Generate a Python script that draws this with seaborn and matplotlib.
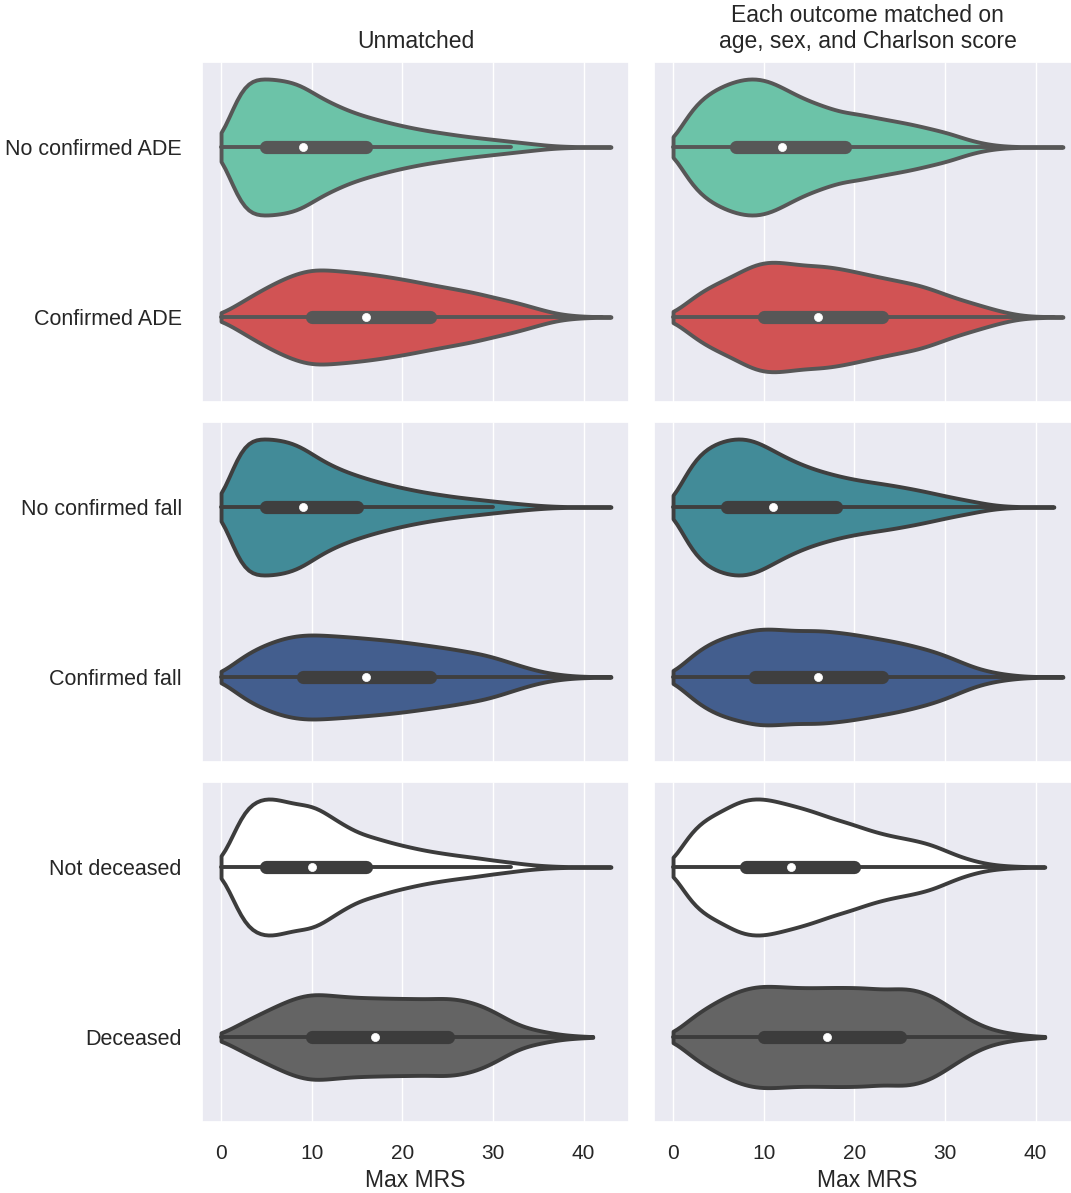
import numpy as np
import pandas as pd
import matplotlib
matplotlib.use("Agg")
import matplotlib.pyplot as plt
import seaborn as sns


# ======== Max MRS score counts ========
scores = np.arange(0, 44)

no_ade_unmatched = [8, 100, 180, 205, 207, 206, 204, 200, 195, 185, 165, 148, 135, 122, 110, 100, 92, 84, 77, 70,
                    64, 58, 53, 48, 44, 40, 36, 32, 29, 26, 23, 20, 17, 14, 11, 8, 5, 3, 2, 1, 1, 1, 1, 1]
ade_unmatched = [8, 25, 42, 58, 75, 90, 104, 118, 129, 138, 145, 144, 142, 140, 137, 135, 131, 128, 124, 119,
                 115, 110, 104, 99, 94, 89, 84, 79, 74, 67, 60, 54, 48, 41, 33, 25, 17, 10, 6, 4, 2, 1, 1, 1]
no_ade_matched = [8, 75, 115, 145, 165, 180, 192, 202, 208, 210, 206, 196, 182, 166, 152, 140, 130, 120, 111, 103,
                  103, 97, 91, 86, 81, 76, 71, 65, 58, 52, 45, 38, 26, 19, 12, 7, 4, 2, 1, 1, 1, 1, 1, 1]
ade_matched = [10, 32, 55, 75, 90, 103, 116, 128, 145, 158, 165, 167, 163, 160, 156, 153, 154, 151, 147, 142,
               136, 130, 124, 118, 113, 107, 102, 97, 88, 79, 68, 58, 50, 42, 34, 26, 18, 12, 6, 3, 2, 1, 1, 1]

no_fall_unmatched = [8, 100, 180, 205, 207, 206, 204, 200, 192, 180, 160, 142, 128, 115, 104, 95, 86, 78, 71, 64,
                     58, 52, 47, 42, 38, 34, 30, 27, 24, 21, 18, 15, 12, 10, 7, 5, 3, 2, 1, 1, 1, 1, 1, 1]
fall_unmatched = [10, 35, 58, 78, 92, 105, 116, 125, 131, 135, 135, 134, 132, 130, 128, 126, 123, 121, 118, 115,
                  112, 108, 104, 100, 96, 92, 87, 82, 77, 72, 64, 55, 45, 36, 27, 19, 13, 9, 5, 3, 2, 1, 1, 1]
no_fall_matched = [8, 85, 135, 165, 185, 197, 205, 210, 209, 202, 188, 172, 157, 143, 131, 120, 111, 103, 96, 89,
                   84, 79, 75, 71, 67, 62, 57, 52, 46, 40, 34, 28, 23, 18, 12, 7, 4, 2, 1, 1, 1, 1, 1]
fall_matched = [12, 38, 66, 88, 104, 117, 127, 134, 140, 149, 150, 149, 147, 144, 143, 144, 145, 142, 139, 136,
                132, 127, 122, 117, 112, 107, 100, 93, 86, 77, 68, 55, 44, 31, 23, 16, 11, 7, 4, 2, 1, 1, 1, 1]

not_dead_unmatched = [8, 70, 150, 185, 195, 205, 198, 193, 183, 182, 181, 168, 148, 131, 116, 100, 92, 85, 77, 69,
                      63, 57, 51, 46, 42, 38, 34, 31, 28, 24, 20, 17, 14, 10, 7, 5, 3, 2, 1, 1, 1, 1, 1, 1]
dead_unmatched = [8, 25, 40, 55, 68, 82, 96, 108, 122, 128, 136, 133, 130, 127, 125, 123, 122, 122, 121, 120,
                  120, 120, 119, 118, 121, 121, 120, 112, 107, 95, 81, 66, 46, 35, 25, 20, 16, 8, 6, 4, 2, 1]
not_dead_matched = [8, 70, 108, 133, 150, 163, 176, 195, 202, 206, 205, 199, 192, 185, 178, 170, 161, 151, 141, 135,
                    126, 116, 107, 100, 93, 88, 84, 77, 72, 62, 50, 38, 28, 20, 13, 8, 5, 3, 2, 1, 1, 1]
dead_matched = [8, 35, 58, 78, 95, 110, 125, 138, 147, 153, 155, 154, 152, 150, 149, 149, 149, 150, 150, 150,
                150, 149, 147, 144, 144, 148, 148, 141, 133, 119, 101, 82, 64, 49, 33, 24, 17, 12, 8, 5, 3, 1]

row_labels = [["No confirmed ADE", "Confirmed ADE"],
              ["No confirmed fall", "Confirmed fall"],
              ["Not deceased", "Deceased"]]
col_titles = ["Unmatched", "Each outcome matched on\nage, sex, and Charlson score"]
row_colors = [["#6cc3a8", "#d15354"],
              ["#428b98", "#435e8e"],
              ["#ffffff", "#646464"]]
line_colors = ["#575757", "#3f3f3f", "#3c3c3c"]

panel_counts = [[[no_ade_unmatched, ade_unmatched], [no_ade_matched, ade_matched]],
                [[no_fall_unmatched, fall_unmatched], [no_fall_matched, fall_matched]],
                [[not_dead_unmatched, dead_unmatched], [not_dead_matched, dead_matched]]]


def build_panel(labels, counts):
    frames = []
    for lab, cnt in zip(labels, counts):
        vals = np.repeat(scores[:len(cnt)], cnt)
        frames.append(pd.DataFrame({"mrs": vals.astype(float), "group": lab}))
    return pd.concat(frames, ignore_index=True)


# ======== style ========
sns.set_theme(style="darkgrid")
plt.rcParams["font.family"] = ["Liberation Sans", "DejaVu Sans"]

fig, axes = plt.subplots(3, 2, figsize=(10.71, 11.93), dpi=100, sharex=True)

W, H = 1071, 1193
lefts = [202, 654]
tops = [62, 422, 782]
ax_w, ax_h = 427, 340

for r in range(3):
    for c in range(2):
        ax = axes[r, c]
        ax.set_position([lefts[c] / W, 1 - (tops[r] + ax_h) / H, ax_w / W, ax_h / H])
        df = build_panel(row_labels[r], panel_counts[r][c])
        # common_norm so both violins of a panel share one width scale
        sns.violinplot(data=df, x="mrs", y="group", hue="group",
                       order=row_labels[r], hue_order=row_labels[r],
                       palette=row_colors[r], saturation=1, cut=0,
                       bw_adjust=0.75, common_norm=True, density_norm="area",
                       inner="box", linewidth=2.8, linecolor=line_colors[r],
                       inner_kws=dict(box_width=9.5, whis_width=2.8, marker="o",
                                      markersize=5.8, markeredgewidth=0.5),
                       legend=False, ax=ax)
        ax.set_ylabel("")
        ax.tick_params(axis="y", labelsize=15.5, pad=8.5)
        ax.tick_params(axis="x", labelsize=15, pad=9.5)
        if c == 1:
            ax.tick_params(axis="y", labelleft=False)
        if r == 2:
            ax.set_xlabel("Max MRS", fontsize=16.5, labelpad=5)
        else:
            ax.set_xlabel("")
        if r == 0:
            ax.set_title(col_titles[c], fontsize=16.5, pad=10)

for ax in axes.flat:
    ax.set_xlim(-2.1, 45.0)
    ax.set_xticks([0, 10, 20, 30, 40])

fig.savefig("out.png", dpi=100)
